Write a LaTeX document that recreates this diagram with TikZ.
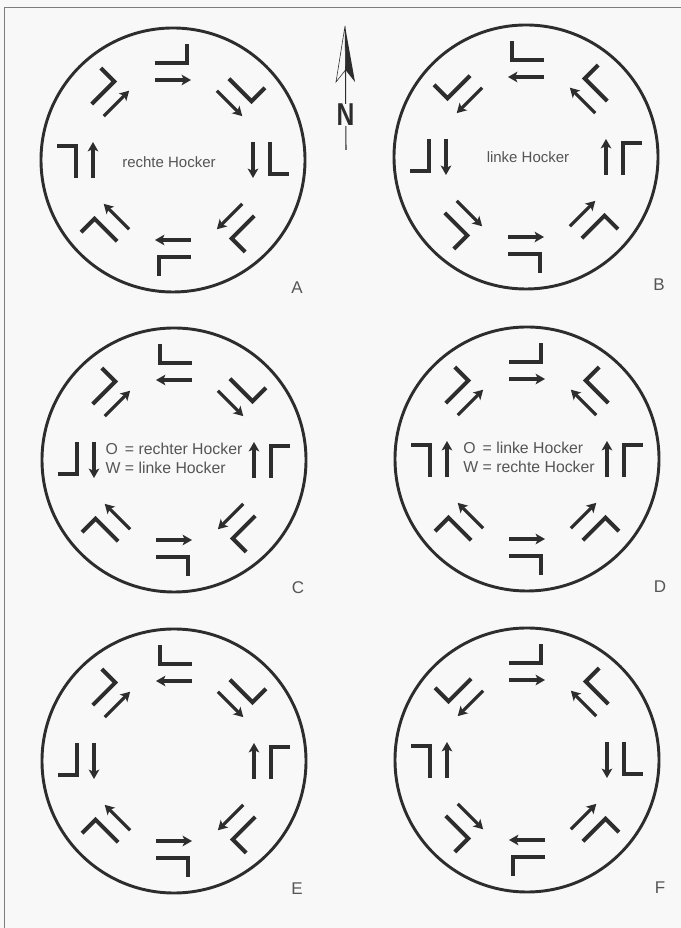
\documentclass[tikz,border=0pt]{standalone}
\usepackage{fontspec}
\setmainfont{Liberation Sans}
\usetikzlibrary{arrows.meta,calc}
\definecolor{ink}{RGB}{45,45,45}
\definecolor{greytext}{RGB}{85,85,85}
\definecolor{paper}{RGB}{248,248,248}
\definecolor{frameline}{RGB}{125,125,125}

\tikzset{
  ring/.style={draw=ink,line width=2.5pt},
  hook/.style={draw=ink,line width=3.4pt,line join=miter},
  flow/.style={draw=ink,line width=2.7pt,-{Stealth[length=8pt,width=9pt,inset=2pt]}},
  lbl/.style={text=greytext,font=\fontsize{12.8}{15}\selectfont,inner sep=0pt},
  key/.style={text=greytext,font=\fontsize{13.5}{16.2}\selectfont,inner sep=0pt},
  corner/.style={text=greytext,font=\fontsize{14.5}{14.5}\selectfont,inner sep=0pt}
}
% one hook and its arrow: centre, angle, direction (1 = counter-clockwise, -1 = clockwise)
\newcommand\hockerpair[3]{%
  \begin{scope}[shift={(#1)},rotate=#2,yscale=#3]
    \draw[hook] (97,-18) -- (97,14) -- (116,14);
    \draw[flow] (80,-18) -- (80,18);
  \end{scope}}

\begin{document}
\begin{tikzpicture}[x=0.03cm,y=0.03cm]
  \fill[paper] (0,0) rectangle (681,928);
  \useasboundingbox (0,0) rectangle (681,928);
  \draw[frameline,line width=0.8pt] (4,0) -- (4,921) -- (681,921);

  % circle centres
  \coordinate (A) at (173,768);
  \coordinate (B) at (526,771);
  \coordinate (C) at (174,468);
  \coordinate (D) at (527,469);
  \coordinate (E) at (174,167);
  \coordinate (F) at (527,168);
  \foreach \c in {A,B,C,D,E,F}
    \draw[ring] (\c) circle (132);

  % N, NE, E, SE, S, SW, W, NW
  \foreach \a/\d in {90/-1,45/-1,0/-1,-45/-1,-90/-1,-135/-1,180/-1,135/-1}
    \hockerpair{A}{\a}{\d};
  \foreach \a/\d in {90/1,45/1,0/1,-45/1,-90/1,-135/1,180/1,135/1}
    \hockerpair{B}{\a}{\d};
  \foreach \a/\d in {90/1,45/-1,0/1,-45/-1,-90/1,-135/-1,180/1,135/-1}
    \hockerpair{C}{\a}{\d};
  \foreach \a/\d in {90/-1,45/1,0/1,-45/1,-90/1,-135/-1,180/-1,135/-1}
    \hockerpair{D}{\a}{\d};
  \foreach \a/\d in {90/1,45/-1,0/1,-45/-1,-90/1,-135/-1,180/1,135/-1}
    \hockerpair{E}{\a}{\d};
  \foreach \a/\d in {90/-1,45/1,0/-1,-45/1,-90/-1,-135/1,180/-1,135/1}
    \hockerpair{F}{\a}{\d};

  % texts
  \node[lbl] (textA) at ([shift={(-4,-2)}]A) {rechte Hocker};
  \node[lbl] (textB) at ([shift={(2,0)}]B) {linke Hocker};
  \node[key] (textC) at (C)
    {\begin{tabular}{@{}l@{ = }l@{}}O&rechter Hocker\\W&linke Hocker\end{tabular}};
  \node[key] (textD) at ([shift={(2,0)}]D)
    {\begin{tabular}{@{}l@{ = }l@{}}O&linke Hocker\\W&rechte Hocker\end{tabular}};

  \foreach \c/\dx in {A/124,B/133,C/124,D/133,E/123,F/133}
    \node[corner] (lab\c) at ([shift={(\dx,-128)}]\c) {\c};

  % north arrow
  \coordinate (tip) at (345,902);
  \coordinate (barbL) at (336,846);
  \coordinate (barbR) at (355,846);
  \coordinate (notch) at (345.5,858);
  \coordinate (foot) at (346,778);
  \draw[ink,line width=0.9pt] (notch) -- (foot);
  \draw[ink,line width=0.5pt,line join=miter] (tip) -- (barbL) -- (notch) -- cycle;
  \fill[ink] (tip) -- (barbR) -- (notch) -- cycle;
  \node[fill=paper,inner sep=0.5pt,text=ink,font=\bfseries\fontsize{27}{27}\selectfont,
        xscale=0.78,transform shape] (north) at (345.5,813) {N};
\end{tikzpicture}
\end{document}
